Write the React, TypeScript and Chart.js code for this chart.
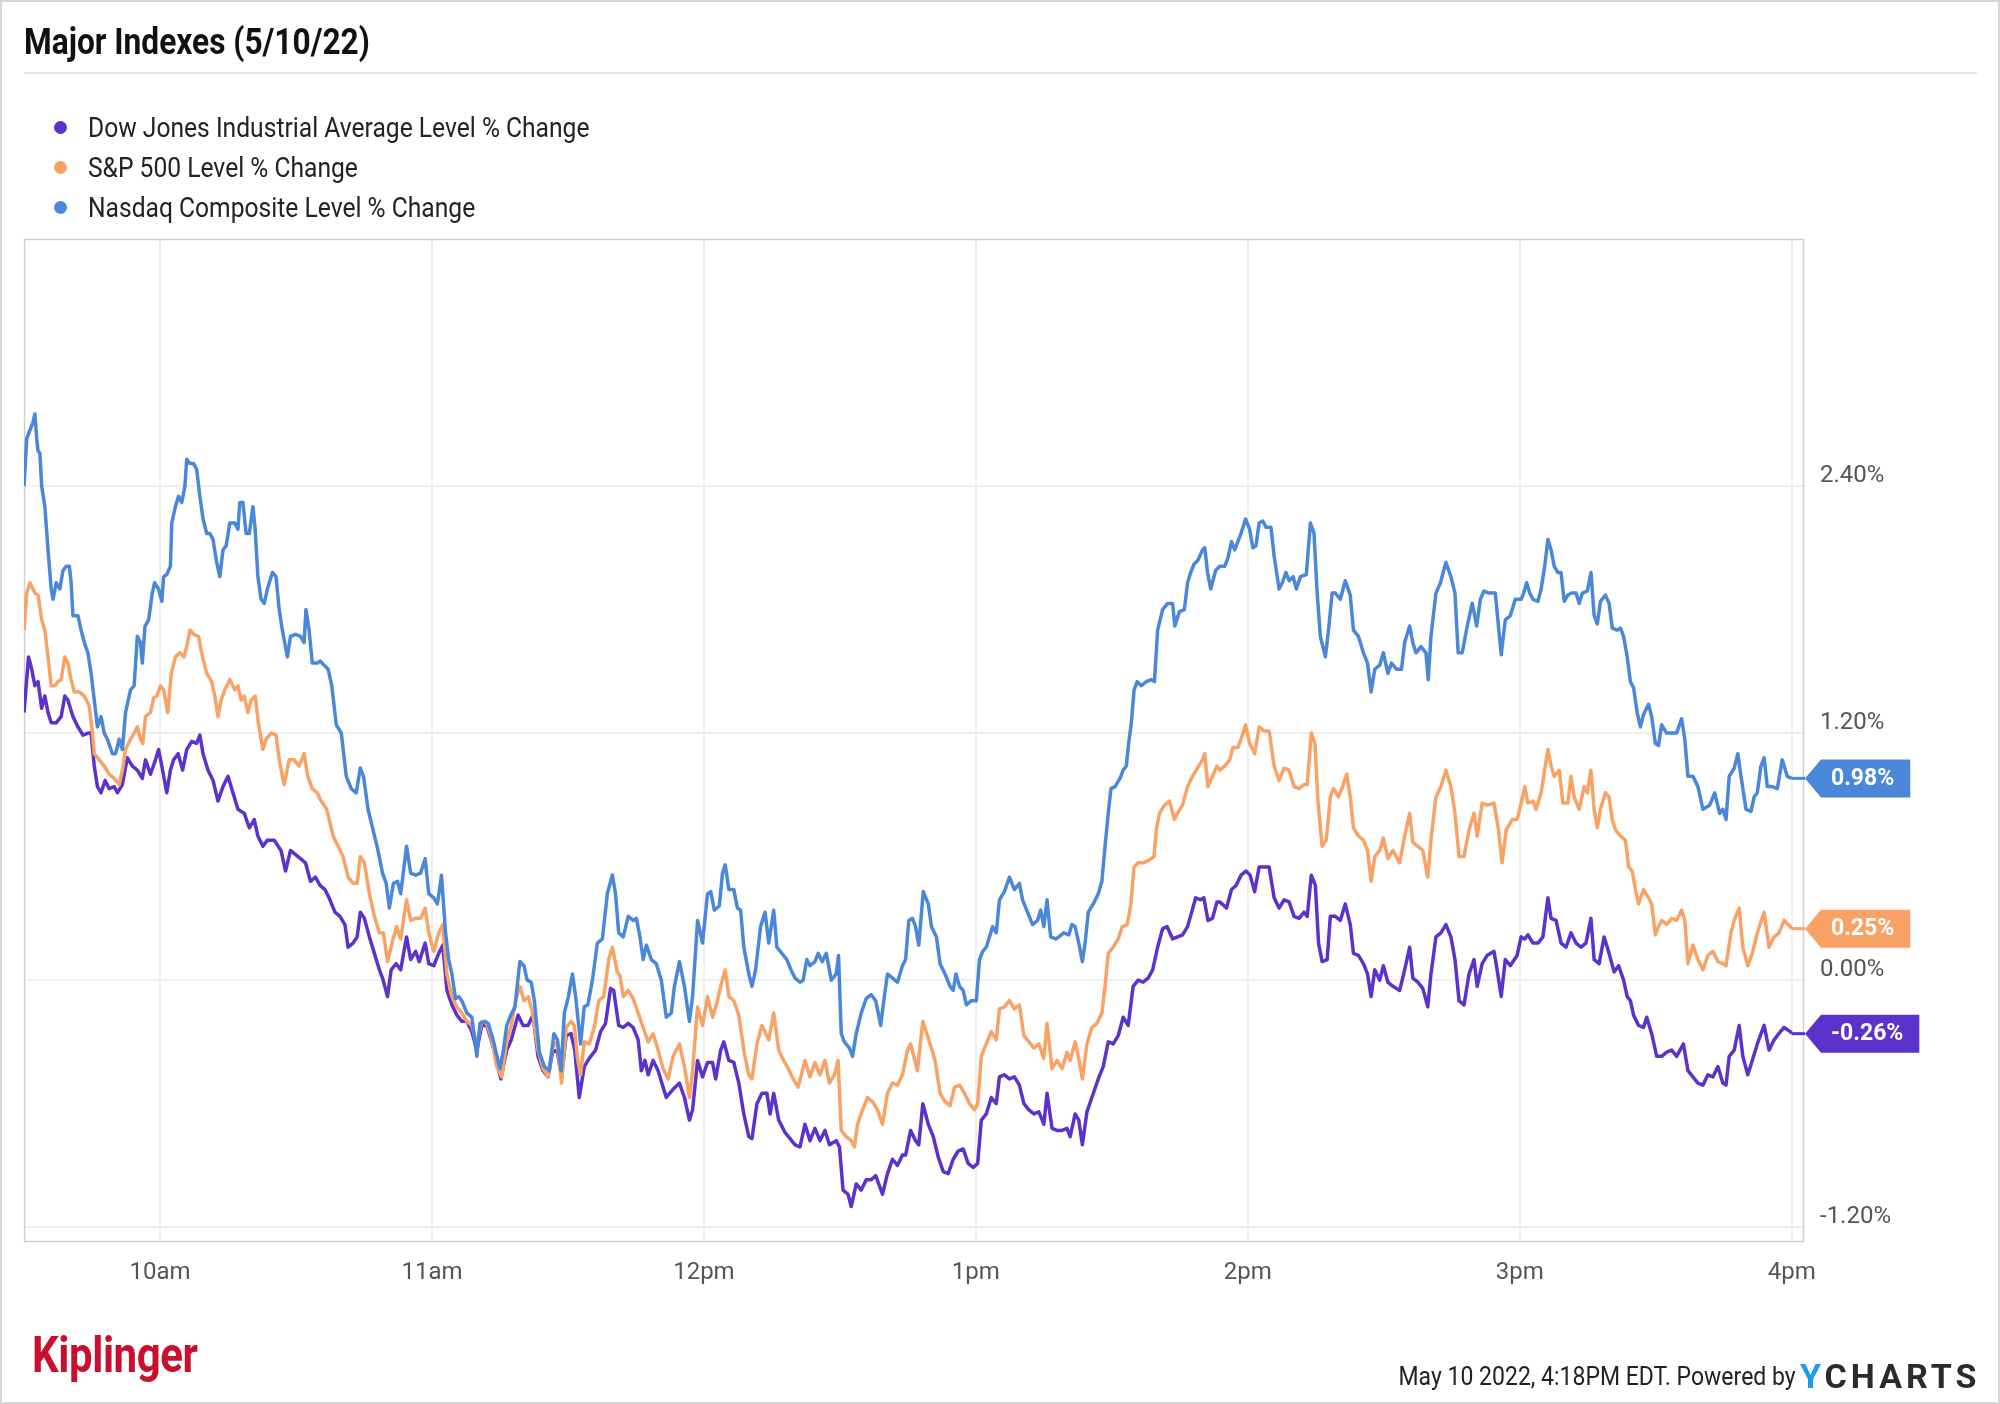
import React, { useEffect, useRef } from 'react';
import { Chart, registerables } from 'chart.js';

Chart.register(...registerables);

// ---- axis setup (minutes since midnight, % change) ----
const SESSION_OPEN = 570; // 9:30am
const X_MIN = 570;
const X_MAX = 962.7;
const Y_MIN = -1.272;
const Y_MAX = 3.6;
const X_TICK_VALUES = [600, 660, 720, 780, 840, 900, 960];
const X_TICK_LABELS = ['10am', '11am', '12pm', '1pm', '2pm', '3pm', '4pm'];
const Y_TICK_VALUES = [-1.2, 0, 1.2, 2.4];

const TITLE = 'Major Indexes (5/10/22)';
const SERIES_NAMES = [
  'Dow Jones Industrial Average Level % Change',
  'S&P 500 Level % Change',
  'Nasdaq Composite Level % Change',
];
const SERIES_COLORS = ['#5b32cb', '#f9a266', '#4a87d8'];
const FOOTER_TEXT = 'May 10 2022, 4:18PM EDT. Powered by';

// [minutes after 9:30am, % change]
const dow: number[][] = [
  [0,1.30],[1.0,1.57],[1.7,1.51],[2.4,1.43],[3.1,1.45],[3.9,1.32],[4.6,1.38],[5.3,1.30],[6.0,1.25],[7.1,1.25],[8.2,1.28],[9.0,1.38],[9.7,1.36],[10.8,1.28],[11.9,1.23],[13.0,1.19],[14.1,1.20],[14.8,1.20],[15.5,1.04],[16.2,0.94],[17.0,0.91],[17.9,0.97],[18.8,0.93],[19.9,0.94],[20.6,0.91],[21.7,0.95],[22.8,1.08],[23.9,1.04],[25.0,1.02],[26.1,0.98],[26.8,1.07],[27.9,1.00],[29.0,1.07],[29.7,1.12],[30.4,1.04],[31.5,0.91],[32.3,1.02],[33.0,1.07],[34.0,1.10],[35.0,1.02],[35.9,1.12],[37.0,1.16],[38.1,1.15],[38.8,1.19],[39.5,1.10],[40.6,1.02],[41.7,0.97],[42.8,0.87],[43.9,0.94],[45.0,0.99],[46.1,0.91],[47.2,0.83],[48.6,0.81],[49.7,0.74],[50.8,0.78],[51.6,0.70],[52.7,0.65],[53.7,0.68],[55.2,0.68],[56.7,0.63],[57.7,0.53],[58.8,0.63],[59.9,0.61],[61.0,0.59],[62.1,0.57],[63.2,0.48],[64.3,0.50],
  [65.3,0.46],[66.4,0.44],[67.5,0.39],[68.6,0.33],[69.7,0.31],[70.8,0.27],[71.5,0.16],[72.6,0.18],[73.5,0.21],[74.2,0.33],[75.1,0.30],[76.2,0.21],[77.3,0.13],[78.4,0.05],[79.1,0.01],[80.2,-0.08],[81.0,0.05],[82.1,0.08],[83.1,0.05],[84.4,0.21],[85.3,0.10],[86.4,0.14],[87.2,0.09],[88.5,0.18],[89.3,0.08],[90.4,0.07],[91.5,0.13],[92.4,0.17],[93.3,-0.05],[94.4,-0.12],[95.5,-0.17],[96.6,-0.20],[97.7,-0.20],[98.8,-0.25],[99.9,-0.34],[101.0,-0.22],[102.1,-0.22],[103.2,-0.30],[104.3,-0.39],[105.2,-0.48],[106.5,-0.34],[107.5,-0.29],[109.0,-0.17],[110.1,-0.22],[111.2,-0.22],[112.3,-0.17],[113.4,-0.37],[114.5,-0.44],[115.6,-0.47],[116.6,-0.35],[117.6,-0.34],[118.6,-0.47],[119.6,-0.27],[120.7,-0.26],[121.5,-0.34],[122.5,-0.57],[123.6,-0.42],[124.7,-0.38],[126.1,-0.34],[127.2,-0.25],[128.3,-0.21],[129.4,-0.04],[130.1,-0.05],[131.2,-0.22],
  [132.2,-0.23],[133.3,-0.21],[134.4,-0.23],[135.5,-0.29],[136.2,-0.44],[137.0,-0.39],[137.7,-0.46],[138.8,-0.39],[139.9,-0.44],[141.0,-0.52],[141.7,-0.57],[143.2,-0.53],[144.6,-0.50],[145.7,-0.57],[146.8,-0.68],[147.5,-0.63],[148.6,-0.39],[149.7,-0.47],[150.8,-0.40],[151.9,-0.40],[152.6,-0.48],[153.7,-0.34],[154.4,-0.30],[155.5,-0.39],[156.6,-0.40],[157.7,-0.50],[158.8,-0.65],[159.9,-0.76],[160.6,-0.77],[161.7,-0.60],[162.8,-0.55],[163.9,-0.55],[164.6,-0.65],[165.4,-0.55],[166.5,-0.68],[167.9,-0.74],[169.0,-0.77],[170.1,-0.80],[171.2,-0.81],[172.3,-0.70],[173.4,-0.78],[174.5,-0.72],[175.6,-0.78],[176.7,-0.73],[177.7,-0.80],[179.2,-0.78],[179.9,-0.81],[180.7,-1.02],[181.8,-1.04],[182.5,-1.10],[183.6,-0.99],[184.7,-1.02],[185.8,-0.97],[186.9,-0.97],[187.9,-0.95],[189.4,-1.04],[190.5,-0.94],[191.6,-0.87],[192.7,-0.90],[193.8,-0.85],[194.5,-0.85],[195.6,-0.73],[196.7,-0.78],[197.4,-0.80],[198.3,-0.60],
  [199.5,-0.70],[200.6,-0.76],[201.7,-0.86],[202.8,-0.93],[203.9,-0.94],[205.0,-0.87],[206.1,-0.83],[207.2,-0.82],[208.3,-0.89],[209.4,-0.91],[210.4,-0.89],[211.2,-0.68],[212.3,-0.65],[213.4,-0.57],[214.5,-0.60],[215.2,-0.47],[216.3,-0.46],[217.4,-0.48],[218.5,-0.47],[219.6,-0.51],[220.6,-0.60],[221.7,-0.63],[222.8,-0.65],[223.9,-0.64],[225.0,-0.70],[225.7,-0.55],[226.8,-0.72],[227.9,-0.73],[229.0,-0.73],[230.1,-0.72],[230.8,-0.76],[231.9,-0.65],[232.7,-0.68],[233.5,-0.80],[234.5,-0.64],[235.6,-0.57],[237.0,-0.48],[238.1,-0.42],[239.2,-0.30],[240.3,-0.31],[241.4,-0.27],[242.5,-0.18],[243.6,-0.22],[244.7,-0.03],[245.8,0.00],[246.9,-0.01],[248.0,0.01],[249.0,0.05],[250.1,0.16],[251.2,0.25],[252.2,0.26],[253.4,0.20],[254.5,0.21],[255.6,0.22],[256.7,0.26],[257.6,0.33],[258.5,0.40],[259.6,0.39],[260.3,0.40],[261.2,0.29],[262.2,0.30],[263.2,0.38],
  [263.8,0.38],[265.3,0.35],[266.4,0.44],[267.4,0.46],[268.5,0.51],[269.6,0.53],[270.5,0.51],[271.5,0.43],[272.5,0.55],[274.0,0.55],[274.7,0.55],[275.8,0.40],[276.9,0.35],[278.0,0.39],[279.1,0.38],[280.2,0.31],[281.3,0.30],[282.4,0.33],[283.1,0.31],[284.0,0.51],[284.9,0.46],[285.6,0.18],[286.4,0.09],[287.5,0.10],[288.2,0.31],[289.3,0.31],[290.4,0.29],[291.5,0.37],[292.6,0.27],[293.3,0.13],[294.4,0.12],[295.5,0.08],[296.4,0.03],[297.2,-0.08],[298.0,0.05],[299.1,0.00],[299.9,0.07],[300.9,-0.01],[302.0,-0.03],[303.5,-0.05],[304.6,0.05],[305.7,0.16],[306.4,0.01],[307.5,-0.01],[308.6,-0.04],[309.7,-0.13],[310.4,0.03],[311.5,0.21],[312.6,0.23],[313.7,0.27],[314.8,0.21],[315.7,0.10],[316.6,-0.10],[317.7,-0.12],[318.8,0.03],[319.9,0.10],[320.6,-0.03],[321.7,0.08],[322.8,0.12],[324.3,0.14],[325.0,0.05],[325.9,-0.08],[326.8,0.10],[327.9,0.07],[329.4,0.12],[330.3,0.21],
  [331.1,0.20],[331.8,0.22],[332.9,0.18],[334.0,0.18],[335.1,0.21],[336.2,0.40],[336.9,0.30],[338.0,0.29],[339.1,0.18],[340.2,0.16],[341.3,0.23],[342.4,0.18],[343.5,0.16],[344.6,0.18],[345.7,0.30],[346.4,0.10],[347.5,0.08],[348.6,0.21],[349.7,0.13],[350.8,0.04],[351.8,0.07],[352.9,0.00],[353.7,-0.08],[354.4,-0.10],[355.1,-0.17],[356.2,-0.22],[357.3,-0.23],[358.0,-0.18],[359.1,-0.26],[360.2,-0.37],[361.3,-0.37],[362.4,-0.35],[363.5,-0.34],[364.6,-0.37],[366.1,-0.31],[367.1,-0.44],[368.2,-0.47],[369.3,-0.50],[370.4,-0.51],[371.5,-0.46],[372.6,-0.47],[373.7,-0.42],[374.8,-0.50],[375.5,-0.51],[376.2,-0.37],[377.3,-0.34],[378.4,-0.22],[379.2,-0.37],[380.3,-0.46],[381.3,-0.39],[382.4,-0.31],[383.9,-0.22],[385.0,-0.34],[386.1,-0.29],[387.5,-0.25],[388.3,-0.23],[389.7,-0.25],[390,-0.26],
];

const sp500: number[][] = [
  [0,1.70],[0.6,1.88],[1.3,1.93],[2.4,1.88],[3.1,1.87],[3.9,1.75],[4.6,1.70],[5.3,1.57],[6.0,1.43],[6.8,1.43],[7.5,1.45],[8.2,1.46],[9.0,1.57],[9.7,1.54],[10.4,1.46],[11.1,1.40],[12.2,1.40],[13.3,1.38],[14.4,1.33],[15.1,1.20],[15.5,1.10],[16.6,1.07],[17.7,1.04],[18.8,1.00],[19.9,0.98],[21.0,0.95],[21.7,1.02],[22.4,1.12],[23.5,1.17],[24.3,1.20],[25.0,1.23],[25.7,1.17],[26.2,1.15],[26.8,1.28],[27.9,1.30],[28.6,1.37],[29.3,1.38],[30.1,1.43],[30.8,1.41],[31.7,1.30],[32.5,1.49],[33.4,1.57],[34.4,1.59],[35.3,1.57],[35.9,1.62],[36.6,1.70],[37.4,1.68],[38.5,1.67],[39.2,1.59],[40.3,1.49],[41.4,1.45],[42.1,1.38],[42.8,1.28],[43.5,1.36],[44.3,1.41],[45.4,1.46],[46.5,1.41],[47.2,1.43],[47.9,1.36],[48.6,1.38],[49.4,1.30],[50.1,1.36],[51.0,1.38],[51.7,1.25],[52.7,1.12],[53.4,1.17],[54.5,1.20],[55.6,1.19],[56.3,1.07],[57.4,0.95],[58.5,1.07],[59.6,1.07],[60.7,1.04],[61.8,1.10],[62.6,0.99],[63.6,0.93],[64.7,0.91],
  [65.3,0.88],[66.8,0.83],[68.2,0.70],[69.3,0.65],[70.4,0.60],[71.5,0.50],[72.6,0.47],[73.5,0.47],[74.2,0.60],[75.1,0.57],[76.2,0.42],[77.3,0.31],[78.4,0.23],[79.3,0.23],[80.2,0.09],[81.2,0.18],[82.2,0.26],[83.1,0.20],[84.4,0.39],[85.3,0.29],[86.4,0.30],[87.5,0.30],[88.5,0.35],[89.3,0.23],[90.4,0.14],[91.5,0.23],[92.4,0.27],[93.3,0.03],[94.4,-0.08],[95.5,-0.13],[96.6,-0.16],[97.7,-0.20],[98.8,-0.22],[99.9,-0.31],[101.0,-0.20],[102.1,-0.21],[103.2,-0.29],[104.3,-0.42],[105.4,-0.47],[106.5,-0.30],[107.5,-0.22],[108.6,-0.09],[109.4,-0.03],[110.3,-0.10],[111.3,-0.08],[112.3,-0.17],[113.4,-0.34],[114.5,-0.43],[115.6,-0.47],[116.6,-0.33],[117.6,-0.30],[118.6,-0.50],[119.6,-0.23],[120.7,-0.20],[121.4,-0.22],[122.1,-0.38],[122.8,-0.46],[123.6,-0.30],[124.7,-0.31],[125.8,-0.23],[126.8,-0.10],[127.9,-0.08],[129.0,0.10],[129.8,0.16],[130.9,0.04],
  [131.5,0.02],[132.2,-0.08],[133.3,-0.05],[134.4,-0.09],[135.5,-0.16],[136.6,-0.23],[137.7,-0.30],[138.8,-0.26],[139.9,-0.34],[141.0,-0.43],[142.1,-0.48],[143.2,-0.37],[144.6,-0.31],[145.7,-0.42],[146.8,-0.57],[147.5,-0.44],[148.6,-0.13],[149.7,-0.22],[150.8,-0.08],[151.9,-0.18],[153.0,-0.10],[153.7,-0.03],[154.7,0.05],[155.5,-0.08],[156.6,-0.10],[157.7,-0.17],[158.8,-0.34],[159.9,-0.46],[160.6,-0.48],[161.7,-0.31],[162.8,-0.22],[164.3,-0.29],[165.4,-0.16],[166.5,-0.34],[167.6,-0.39],[168.6,-0.43],[169.7,-0.48],[170.8,-0.52],[172.3,-0.39],[173.4,-0.47],[174.5,-0.40],[175.6,-0.46],[176.7,-0.39],[177.7,-0.50],[178.8,-0.46],[179.6,-0.39],[180.3,-0.73],[181.4,-0.76],[182.5,-0.78],[183.2,-0.81],[183.9,-0.70],[185.0,-0.63],[186.1,-0.57],[187.2,-0.59],[188.3,-0.63],[189.4,-0.70],[190.5,-0.55],[191.6,-0.50],[192.7,-0.51],[193.8,-0.46],[194.9,-0.34],[195.6,-0.31],[196.3,-0.37],[197.1,-0.44],[198.3,-0.20],
  [199.9,-0.31],[201.0,-0.39],[202.1,-0.55],[203.2,-0.59],[204.3,-0.61],[205.3,-0.52],[206.4,-0.51],[207.5,-0.55],[208.6,-0.60],[209.7,-0.63],[210.4,-0.60],[211.2,-0.37],[212.3,-0.31],[213.4,-0.25],[214.5,-0.29],[215.2,-0.14],[216.3,-0.13],[217.4,-0.10],[218.5,-0.14],[219.6,-0.12],[220.6,-0.27],[221.7,-0.30],[222.8,-0.33],[223.9,-0.31],[225.0,-0.38],[225.7,-0.21],[226.8,-0.43],[227.9,-0.39],[229.0,-0.43],[230.1,-0.35],[230.8,-0.39],[231.9,-0.30],[232.7,-0.38],[233.5,-0.48],[234.5,-0.31],[235.6,-0.23],[236.7,-0.21],[237.8,-0.16],[238.5,-0.03],[239.2,0.13],[240.3,0.16],[241.4,0.20],[242.3,0.26],[243.4,0.27],[244.2,0.37],[244.9,0.55],[245.8,0.57],[246.9,0.57],[248.0,0.58],[249.3,0.60],[249.8,0.73],[250.5,0.81],[251.6,0.85],[252.7,0.87],[253.8,0.78],[254.5,0.81],[255.6,0.85],[256.7,0.94],[257.8,0.99],[258.9,1.03],[260.0,1.07],[260.5,1.10],[261.2,0.94],[262.2,0.99],[263.2,1.04],
  [263.8,1.02],[264.9,1.04],[266.0,1.07],[266.7,1.13],[267.8,1.13],[268.5,1.17],[269.5,1.24],[270.4,1.15],[271.5,1.10],[272.5,1.23],[273.6,1.21],[274.7,1.21],[275.8,1.04],[276.9,0.97],[278.0,1.03],[279.1,1.02],[280.2,0.94],[281.3,0.93],[282.4,0.95],[283.1,0.95],[284.0,1.20],[284.8,1.15],[285.5,0.86],[286.4,0.65],[287.3,0.68],[288.2,0.89],[288.9,0.93],[290.0,0.89],[290.9,0.94],[291.8,1.00],[292.6,0.89],[293.3,0.74],[294.4,0.70],[295.5,0.68],[296.4,0.63],[297.2,0.48],[298.0,0.60],[299.1,0.63],[299.9,0.69],[300.9,0.59],[302.0,0.63],[303.5,0.57],[304.6,0.70],[305.7,0.81],[306.4,0.67],[307.5,0.65],[308.6,0.63],[309.7,0.50],[310.4,0.68],[311.5,0.89],[312.6,0.94],[313.7,1.02],[314.8,0.94],[315.7,0.81],[316.6,0.60],[317.7,0.60],[318.8,0.73],[319.9,0.81],[320.6,0.70],[321.7,0.86],[322.8,0.85],[324.3,0.86],[325.3,0.73],[326.1,0.57],[327.0,0.73],[328.3,0.78],[329.4,0.78],[330.3,0.86],
  [331.1,0.94],[331.8,0.86],[332.9,0.87],[333.6,0.83],[334.7,0.91],[336.2,1.12],[336.9,1.04],[337.6,0.99],[338.7,1.02],[339.5,0.86],[340.6,0.86],[341.3,0.99],[342.0,0.89],[343.1,0.83],[344.2,0.94],[344.9,0.91],[345.7,1.02],[346.4,0.83],[347.1,0.74],[347.8,0.83],[348.9,0.91],[349.7,0.89],[350.4,0.78],[351.1,0.73],[352.2,0.70],[353.3,0.68],[354.0,0.55],[354.8,0.53],[355.5,0.44],[356.2,0.37],[357.3,0.44],[358.4,0.40],[359.1,0.37],[359.9,0.22],[360.6,0.26],[361.3,0.29],[362.4,0.27],[363.5,0.30],[364.6,0.29],[365.7,0.34],[366.4,0.29],[367.1,0.08],[368.2,0.17],[369.3,0.10],[370.4,0.05],[371.5,0.12],[372.6,0.14],[373.7,0.09],[374.8,0.08],[375.5,0.07],[376.6,0.23],[377.3,0.29],[378.4,0.35],[379.2,0.16],[380.3,0.07],[381.3,0.13],[382.4,0.23],[383.9,0.33],[385.0,0.16],[386.1,0.21],[387.2,0.23],[388.3,0.29],[389.7,0.26],[390,0.25],
];

const nasdaq: number[][] = [
  [0,2.40],[0.6,2.63],[2.0,2.71],[2.4,2.75],[2.8,2.63],[3.1,2.57],[3.5,2.56],[3.9,2.40],[4.6,2.30],[5.3,2.09],[6.0,1.90],[6.4,1.85],[7.1,1.93],[7.9,1.90],[8.6,1.99],[9.3,2.01],[10.0,2.01],[10.4,1.93],[10.8,1.77],[11.9,1.77],[12.6,1.70],[13.3,1.64],[14.1,1.59],[14.8,1.49],[15.5,1.36],[16.2,1.23],[17.0,1.28],[17.7,1.20],[18.4,1.17],[19.5,1.10],[20.2,1.10],[21.0,1.17],[21.7,1.12],[22.4,1.30],[23.5,1.41],[24.3,1.43],[25.0,1.67],[25.7,1.64],[26.1,1.54],[26.7,1.72],[27.5,1.75],[28.3,1.88],[28.8,1.93],[29.7,1.90],[30.4,1.84],[30.8,1.96],[31.5,1.97],[32.3,2.01],[32.6,2.22],[33.4,2.30],[34.1,2.35],[34.8,2.32],[35.5,2.40],[35.9,2.53],[36.6,2.51],[37.4,2.51],[38.1,2.48],[38.8,2.35],[39.5,2.24],[40.3,2.17],[41.0,2.17],[41.7,2.14],[42.5,2.03],[43.2,1.96],[43.9,2.09],[44.6,2.11],[45.4,2.22],[46.5,2.22],[47.2,2.19],[47.6,2.32],[48.3,2.32],[49.0,2.17],[49.7,2.17],[50.5,2.30],[51.0,2.19],[51.6,1.96],[52.3,1.85],[53.0,1.83],[53.7,1.90],[54.8,1.98],[55.6,1.96],[56.3,1.80],[57.0,1.70],[58.1,1.57],[58.8,1.67],[59.9,1.68],[61.0,1.67],[61.8,1.64],[62.2,1.80],[62.9,1.70],[63.6,1.54],[64.7,1.54],
  [65.3,1.55],[67.1,1.51],[67.9,1.43],[68.9,1.24],[70.0,1.20],[71.1,0.99],[72.2,0.93],[73.3,0.91],[74.2,1.03],[74.9,0.99],[75.9,0.83],[77.0,0.73],[78.0,0.64],[79.1,0.52],[79.9,0.47],[80.6,0.35],[81.5,0.47],[82.4,0.48],[83.1,0.42],[84.4,0.65],[85.3,0.52],[86.4,0.51],[87.5,0.52],[88.5,0.59],[89.3,0.42],[90.4,0.40],[91.2,0.37],[92.1,0.51],[93.0,0.23],[93.7,0.10],[94.4,0.03],[95.2,-0.09],[95.9,-0.08],[96.6,-0.10],[97.7,-0.16],[98.8,-0.18],[99.9,-0.37],[100.6,-0.21],[101.7,-0.20],[102.4,-0.21],[103.5,-0.29],[105.0,-0.43],[105.7,-0.35],[106.5,-0.22],[107.4,-0.17],[108.3,-0.13],[109.4,0.09],[110.3,0.07],[111.0,0.00],[111.9,-0.01],[112.6,-0.10],[113.7,-0.35],[114.8,-0.42],[115.9,-0.44],[116.9,-0.26],[117.7,-0.29],[118.5,-0.44],[119.2,-0.16],[120.1,-0.08],[121.0,0.03],[121.7,-0.08],[122.8,-0.31],[123.6,-0.13],[124.4,-0.12],[125.4,0.00],[126.5,0.18],[127.6,0.20],[128.7,0.42],[129.8,0.51],[130.5,0.42],[131.2,0.23],
  [132.2,0.21],[133.3,0.31],[134.4,0.29],[135.1,0.30],[135.9,0.21],[136.6,0.10],[137.3,0.17],[138.4,0.10],[139.5,0.08],[140.6,0.00],[141.7,-0.18],[142.8,-0.16],[143.5,-0.03],[144.6,0.09],[145.7,-0.03],[146.8,-0.20],[147.5,-0.08],[148.6,0.29],[149.7,0.18],[150.8,0.42],[151.5,0.43],[152.3,0.34],[153.4,0.36],[154.1,0.52],[154.7,0.56],[155.5,0.44],[156.6,0.44],[157.4,0.35],[158.1,0.34],[158.8,0.16],[159.9,0.03],[160.6,-0.03],[161.4,0.05],[162.5,0.26],[163.5,0.33],[164.3,0.18],[165.4,0.34],[166.1,0.16],[167.2,0.13],[168.3,0.10],[169.4,0.04],[170.1,0.01],[171.2,-0.01],[171.9,0.00],[172.7,0.10],[173.4,0.07],[174.5,0.09],[175.2,0.13],[176.1,0.09],[177.0,0.13],[178.1,0.00],[179.2,0.03],[179.7,0.12],[180.3,-0.26],[181.0,-0.30],[182.1,-0.33],[182.8,-0.37],[183.6,-0.26],[184.7,-0.16],[185.8,-0.09],[186.9,-0.07],[187.9,-0.10],[189.0,-0.22],[189.8,-0.08],[190.5,0.03],[191.6,0.01],[192.7,-0.01],[193.8,0.07],[194.5,0.10],[195.2,0.29],[196.0,0.30],[196.7,0.26],[197.4,0.17],[198.4,0.43],
  [199.5,0.37],[200.2,0.26],[201.3,0.21],[202.1,0.08],[203.2,0.03],[204.3,-0.03],[205.0,-0.05],[205.6,0.03],[206.4,-0.03],[207.2,-0.05],[207.9,-0.12],[209.0,-0.10],[210.1,-0.10],[210.8,0.10],[211.5,0.14],[212.3,0.16],[213.0,0.21],[213.7,0.26],[214.5,0.23],[215.2,0.39],[216.3,0.43],[217.4,0.50],[218.5,0.44],[219.6,0.47],[220.3,0.39],[221.4,0.33],[222.5,0.27],[223.6,0.29],[224.3,0.34],[225.0,0.26],[225.7,0.39],[226.5,0.21],[227.6,0.20],[228.3,0.21],[229.4,0.23],[230.5,0.22],[231.2,0.27],[231.9,0.26],[232.7,0.18],[233.5,0.09],[234.1,0.18],[234.8,0.33],[235.9,0.37],[237.0,0.42],[237.8,0.48],[238.5,0.65],[239.2,0.81],[239.8,0.93],[240.7,0.94],[241.8,0.98],[242.5,1.02],[243.2,1.04],[243.7,1.15],[244.3,1.25],[244.9,1.41],[245.6,1.45],[246.5,1.43],[247.6,1.45],[248.7,1.46],[249.4,1.45],[250.1,1.70],[251.2,1.80],[252.3,1.83],[253.4,1.83],[253.9,1.72],[254.9,1.79],[256.0,1.80],[256.7,1.93],[257.4,1.98],[258.1,2.02],[259.0,2.04],[260.0,2.09],[260.5,2.10],[261.1,1.98],[261.8,1.90],[262.9,1.99],
  [263.8,2.01],[264.9,2.01],[265.6,2.05],[266.4,2.13],[267.1,2.09],[267.8,2.13],[268.5,2.17],[269.5,2.24],[270.4,2.19],[271.1,2.10],[271.8,2.11],[272.5,2.22],[273.3,2.23],[274.0,2.20],[275.1,2.20],[275.8,2.06],[276.9,1.90],[277.6,1.93],[278.4,1.98],[279.1,1.94],[280.0,1.96],[280.7,1.90],[281.6,1.96],[282.9,1.97],[283.8,2.22],[284.6,2.17],[285.3,1.88],[286.0,1.67],[287.1,1.57],[287.8,1.70],[288.6,1.88],[289.3,1.88],[290.4,1.85],[291.5,1.94],[292.6,1.87],[293.3,1.70],[294.4,1.67],[295.5,1.59],[296.4,1.54],[297.2,1.40],[298.0,1.51],[299.1,1.53],[299.9,1.59],[300.9,1.49],[301.7,1.54],[302.8,1.51],[303.9,1.51],[304.6,1.64],[305.7,1.72],[306.4,1.64],[307.1,1.59],[308.2,1.62],[309.3,1.59],[309.8,1.46],[310.4,1.67],[311.5,1.88],[312.5,1.93],[313.7,2.03],[314.8,1.96],[315.7,1.88],[316.4,1.59],[317.3,1.59],[318.4,1.72],[319.5,1.83],[320.5,1.72],[321.3,1.85],[322.1,1.89],[323.2,1.88],[324.6,1.88],[325.9,1.58],[326.8,1.75],[327.9,1.77],[329.0,1.85],[330.3,1.85],
  [330.7,1.87],[331.5,1.93],[332.2,1.88],[332.9,1.85],[334.0,1.84],[334.7,1.90],[335.5,2.01],[336.2,2.14],[336.9,2.09],[337.6,2.01],[338.4,1.98],[339.1,1.98],[339.8,1.84],[340.6,1.87],[341.3,1.88],[342.4,1.88],[343.1,1.83],[343.8,1.88],[344.9,1.89],[345.7,1.98],[346.4,1.77],[347.1,1.73],[347.8,1.84],[348.9,1.87],[349.7,1.83],[350.4,1.71],[351.5,1.70],[352.2,1.71],[352.9,1.67],[353.7,1.57],[354.4,1.45],[355.1,1.42],[355.9,1.30],[356.6,1.23],[357.3,1.29],[358.4,1.34],[359.1,1.28],[359.9,1.15],[360.6,1.14],[361.3,1.24],[362.4,1.20],[363.5,1.20],[364.6,1.20],[365.7,1.27],[366.4,1.17],[367.1,0.99],[368.2,0.99],[369.3,0.94],[370.4,0.83],[371.9,0.85],[373.0,0.91],[374.1,0.81],[374.8,0.83],[375.5,0.78],[376.2,0.99],[377.3,1.03],[378.1,1.10],[378.8,0.99],[379.9,0.83],[381.0,0.82],[381.7,0.89],[382.4,0.91],[383.2,1.04],[383.9,1.08],[384.6,0.94],[385.7,0.94],[386.8,0.93],[387.9,1.07],[389.0,0.99],[390,0.98],
];

const SERIES_DATA = [dow, sp500, nasdaq];

const plotBoxPlugin = {
  id: 'plotBox',
  beforeDatasetsDraw(chart: any) {
    const { ctx, chartArea: a } = chart;
    ctx.save();
    ctx.strokeStyle = '#cfcfcf';
    ctx.lineWidth = 1.5;
    ctx.strokeRect(a.left + 0.5, a.top + 0.5, a.right - a.left - 1, a.bottom - a.top - 1);
    ctx.restore();
  },
};

const endTagPlugin = {
  id: 'endTags',
  afterDatasetsDraw(chart: any) {
    const { ctx, chartArea: a } = chart;
    chart.data.datasets.forEach((ds: any, i: number) => {
      const meta = chart.getDatasetMeta(i);
      const pts = meta.data;
      if (!pts.length) return;
      const last = pts[pts.length - 1];
      const val = ds.data[ds.data.length - 1].y;
      const y = last.y;
      const tip = a.right + 1;
      ctx.save();
      ctx.strokeStyle = ds.borderColor;
      ctx.lineWidth = 3;
      ctx.beginPath();
      ctx.moveTo(last.x, y);
      ctx.lineTo(tip, y);
      ctx.stroke();
      const text = val.toFixed(2) + '%';
      ctx.font = 'bold 23px Roboto';
      const tw = ctx.measureText(text).width;
      const depth = 16;
      const half = 19;
      const bodyW = tw + 26;
      ctx.fillStyle = ds.borderColor;
      ctx.beginPath();
      ctx.moveTo(tip, y);
      ctx.lineTo(tip + depth, y - half);
      ctx.lineTo(tip + depth + bodyW, y - half);
      ctx.lineTo(tip + depth + bodyW, y + half);
      ctx.lineTo(tip + depth, y + half);
      ctx.closePath();
      ctx.fill();
      ctx.fillStyle = '#ffffff';
      ctx.textAlign = 'center';
      ctx.textBaseline = 'middle';
      ctx.fillText(text, tip + depth + bodyW / 2 - 3, y + 1);
      ctx.restore();
    });
  },
};

function IndexChart() {
  const ref = useRef<HTMLCanvasElement | null>(null);
  useEffect(() => {
    if (!ref.current) return;
    Chart.defaults.font.family = 'Roboto';
    const order = [2, 1, 0];
    const chart = new Chart(ref.current, {
      type: 'line',
      data: {
        datasets: SERIES_DATA.map((series, i) => ({
          label: SERIES_NAMES[i],
          data: series.map(([t, v]) => ({ x: SESSION_OPEN + t, y: v })),
          borderColor: SERIES_COLORS[i],
          backgroundColor: SERIES_COLORS[i],
          borderWidth: 3.5,
          pointRadius: 0,
          tension: 0,
          borderJoinStyle: 'round' as const,
          order: order[i],
        })),
      },
      options: {
        animation: false,
        responsive: false,
        devicePixelRatio: 1,
        layout: { padding: { left: 24, top: 239, right: 0, bottom: 0 } },
        plugins: {
          legend: { display: false },
          tooltip: { enabled: false },
        },
        scales: {
          x: {
            type: 'linear',
            min: X_MIN,
            max: X_MAX,
            afterBuildTicks: (s: any) => {
              s.ticks = X_TICK_VALUES.map((v) => ({ value: v }));
            },
            afterFit: (s: any) => {
              s.height = 162;
            },
            grid: { color: '#efefef', lineWidth: 2, drawTicks: false },
            border: { display: false },
            ticks: {
              autoSkip: false,
              maxRotation: 0,
              padding: 17,
              color: '#555555',
              font: { family: 'Roboto', size: 24 },
              callback: (v: any) => {
                const idx = X_TICK_VALUES.indexOf(Number(v));
                return idx >= 0 ? X_TICK_LABELS[idx] : '';
              },
            },
          },
          y: {
            type: 'linear',
            position: 'right',
            min: Y_MIN,
            max: Y_MAX,
            afterBuildTicks: (s: any) => {
              s.ticks = Y_TICK_VALUES.map((v) => ({ value: v }));
            },
            afterFit: (s: any) => {
              s.width = 196;
            },
            grid: { color: '#efefef', lineWidth: 2, drawTicks: false },
            border: { display: false },
            ticks: {
              padding: 16,
              labelOffset: -10,
              color: '#555555',
              font: { family: 'Roboto', size: 24 },
              callback: (v: any) => Number(v).toFixed(2) + '%',
            },
          },
        },
      },
      plugins: [plotBoxPlugin, endTagPlugin],
    } as any);
    return () => chart.destroy();
  }, []);
  return (
    <canvas
      ref={ref}
      width={2000}
      height={1404}
      style={{ position: 'absolute', left: 0, top: 0, width: 2000, height: 1404 }}
    />
  );
}

const LEGEND_ROW_Y = [127, 167, 207];

export default function App() {
  return (
    <div
      style={{
        position: 'absolute',
        left: 0,
        top: 0,
        width: 2000,
        height: 1404,
        background: '#ffffff',
        boxShadow: 'inset 0 0 0 2px #d6d6d6',
        fontFamily: 'Roboto, "Noto Sans", sans-serif',
        overflow: 'hidden',
      }}
    >
      <IndexChart />
      <div
        style={{
          position: 'absolute', left: 24, top: 24, fontSize: 36, lineHeight: '36px', fontWeight: 700,
          color: '#111', whiteSpace: 'nowrap', transform: 'scaleX(0.88)', transformOrigin: 'left center',
        }}
      >
        {TITLE}
      </div>
      <div style={{ position: 'absolute', left: 24, top: 72, width: 1953, height: 2, background: '#e2e2e2' }} />
      {SERIES_NAMES.map((name, i) => (
        <React.Fragment key={name}>
          <div
            style={{
              position: 'absolute', left: 54, top: LEGEND_ROW_Y[i] - 6.5, width: 13, height: 13,
              borderRadius: '50%', background: SERIES_COLORS[i],
            }}
          />
          <div
            style={{
              position: 'absolute', left: 88, top: LEGEND_ROW_Y[i] - 12, fontSize: 27, lineHeight: '27px',
              color: '#222', whiteSpace: 'nowrap', transform: 'scaleX(0.912)', transformOrigin: 'left center',
            }}
          >
            {name}
          </div>
        </React.Fragment>
      ))}
      <div
        style={{
          position: 'absolute', left: 32, top: 1330, fontSize: 50, lineHeight: '50px', fontWeight: 700,
          color: '#c8102e', whiteSpace: 'nowrap', letterSpacing: -0.5, transform: 'scaleX(0.84)',
          transformOrigin: 'left center',
        }}
      >
        Kiplinger
      </div>
      <div
        style={{
          position: 'absolute', right: 204, top: 1364, fontSize: 25, lineHeight: '25px', color: '#222',
          whiteSpace: 'nowrap', transform: 'scaleX(0.92)', transformOrigin: 'right center',
        }}
      >
        {FOOTER_TEXT}
      </div>
      <div
        style={{
          position: 'absolute', left: 1800, top: 1359, fontSize: 34, lineHeight: '34px', fontWeight: 700,
          letterSpacing: 4, whiteSpace: 'nowrap', color: '#2b2b2b',
        }}
      >
        <span style={{ color: '#1e9be9' }}>Y</span>CHARTS
      </div>
    </div>
  );
}
